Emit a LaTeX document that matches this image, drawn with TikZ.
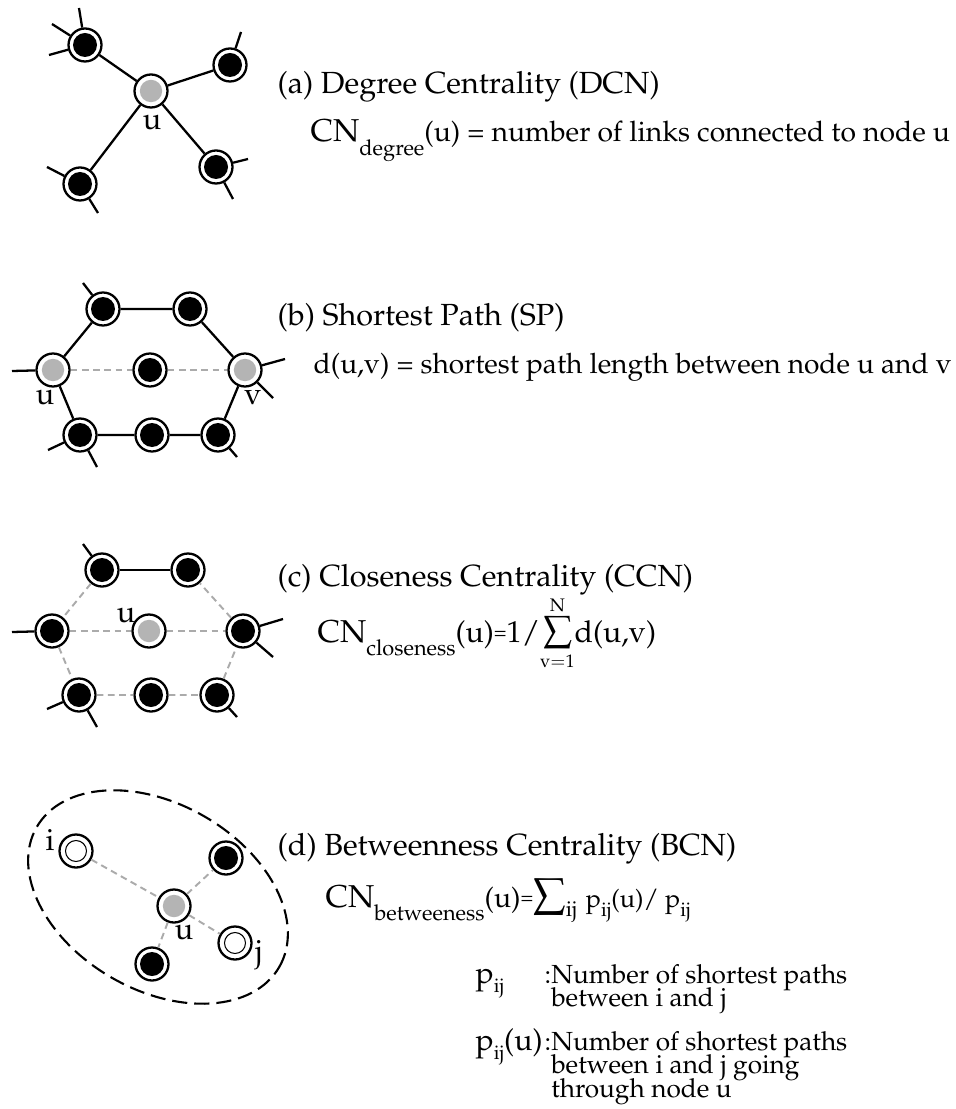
\documentclass[tikz,border=0pt]{standalone}
\usepackage[T1]{fontenc}
\usepackage{mathpazo}
\usetikzlibrary{positioning}
\definecolor{hopgray}{HTML}{ABABAB}
\definecolor{hubgray}{HTML}{B4B4B4}
\newcommand{\cnsub}[1]{{\fontsize{9.0}{10}\selectfont CN\raisebox{-3.8pt}{\fontsize{6.2}{8}\selectfont #1}}}
\newcommand{\ijsub}{\raisebox{-2.6pt}{\fontsize{5.6}{6}\selectfont ij}}
\newcommand{\bigsum}[1][1.2]{\mathop{\hbox{\scalebox{#1}{$\sum$}}}}
\newcommand{\stackl}[1]{\vtop{\baselineskip=6.8pt\lineskiplimit=-\maxdimen\halign{##\hfil\cr#1\crcr}}}

\begin{document}
\begin{tikzpicture}[
  peer/.style={circle,draw,line width=0.65pt,fill=white,minimum size=0.33cm,inner sep=0pt,
    path picture={\fill[black] (path picture bounding box.center) circle (0.12);}},
  hub/.style={peer,path picture={\fill[hubgray] (path picture bounding box.center) circle (0.112);}},
  endpt/.style={peer,path picture={\draw[black,line width=0.3pt] (path picture bounding box.center) circle (0.105);}},
  link/.style={line width=0.65pt},
  hop/.style={hopgray,line width=0.55pt,dash pattern=on 1.9pt off 1.3pt},
  lbl/.style={font=\fontsize{8.7}{10}\selectfont,inner sep=0pt},
  head/.style={font=\fontsize{8.7}{10}\selectfont,inner sep=0pt,anchor=base west},
  rule/.style={font=\fontsize{8.05}{10}\selectfont,inner sep=0pt,anchor=base west},
  note/.style={font=\fontsize{8.6}{9}\selectfont,inner sep=0pt,anchor=base west}]
 \useasboundingbox (0,0) rectangle (9.56,-11.09);

 % (a) degree centrality
 \node[hub] (au) at (1.51,-0.91) {};
 \node[peer] (a1) at (0.85,-0.45) {};
 \node[peer] (a2) at (2.30,-0.65) {};
 \node[peer] (a3) at (0.80,-1.84) {};
 \node[peer] (a4) at (2.16,-1.67) {};
 \node[lbl] (aul) at (1.52,-1.22) {u};
 \coordinate (a1x) at (0.79,-0.08);
 \coordinate (a1y) at (0.52,-0.24);
 \coordinate (a1z) at (0.49,-0.55);
 \coordinate (a2x) at (2.41,-0.32);
 \coordinate (a3x) at (0.47,-1.67);
 \coordinate (a3y) at (0.98,-2.13);
 \coordinate (a4x) at (2.48,-1.59);
 \coordinate (a4y) at (2.33,-1.99);
 \draw[link] (au)--(a1) (au)--(a2) (au)--(a3) (au)--(a4);
 \draw[link] (a1)--(a1x) (a1)--(a1y) (a1)--(a1z) (a2)--(a2x)
   (a3)--(a3x) (a3)--(a3y) (a4)--(a4x) (a4)--(a4y);
 \node[head] (ha) at (2.77,-0.94) {(a) Degree Centrality (DCN)};
 \node[rule] (fa) at (3.10,-1.42) {\cnsub{degree}(u) = number of links connected to node u};

 % (b) shortest path
 \node[peer] (b1) at (1.03,-3.09) {};
 \node[peer] (b2) at (1.90,-3.09) {};
 \node[hub] (bu) at (0.53,-3.70) {};
 \node[peer] (bc) at (1.50,-3.70) {};
 \node[hub] (bv) at (2.45,-3.70) {};
 \node[peer] (b3) at (0.80,-4.35) {};
 \node[peer] (b4) at (1.52,-4.35) {};
 \node[peer] (b5) at (2.18,-4.35) {};
 \node[lbl] (bul) at (0.45,-3.97) {u};
 \node[lbl] (bvl) at (2.53,-3.98) {v};
 \coordinate (b1x) at (0.83,-2.83);
 \coordinate (bux) at (0.12,-3.71);
 \coordinate (bvx) at (2.85,-3.59);
 \coordinate (bvy) at (2.73,-3.98);
 \coordinate (b3x) at (0.48,-4.50);
 \coordinate (b3y) at (0.97,-4.67);
 \coordinate (b5x) at (2.37,-4.57);
 \draw[link] (bu)--(b1)--(b2)--(bv)--(b5)--(b4)--(b3)--(bu);
 \draw[link] (b1)--(b1x) (bu)--(bux) (bv)--(bvx) (bv)--(bvy)
   (b3)--(b3x) (b3)--(b3y) (b5)--(b5x);
 \draw[hop] (bu)--(bc)--(bv);
 \node[head] (hb) at (2.77,-3.26) {(b) Shortest Path (SP)};
 \node[rule,font=\fontsize{8.0}{10}\selectfont] (fb) at (3.13,-3.74) {d(u,v) = shortest path length between node u and v};

 % (c) closeness centrality
 \node[peer] (c1) at (1.02,-5.70) {};
 \node[peer] (c2) at (1.88,-5.70) {};
 \node[peer] (cl) at (0.52,-6.31) {};
 \node[hub] (cu) at (1.49,-6.31) {};
 \node[peer] (cr) at (2.43,-6.31) {};
 \node[peer] (c3) at (0.79,-6.95) {};
 \node[peer] (c4) at (1.51,-6.95) {};
 \node[peer] (c5) at (2.17,-6.95) {};
 \node[lbl] (cul) at (1.26,-6.15) {u};
 \coordinate (c1x) at (0.83,-5.44);
 \coordinate (clx) at (0.12,-6.32);
 \coordinate (crx) at (2.83,-6.19);
 \coordinate (cry) at (2.73,-6.57);
 \coordinate (c3x) at (0.47,-7.09);
 \coordinate (c3y) at (0.97,-7.27);
 \coordinate (c5x) at (2.37,-7.17);
 \draw[link] (c1)--(c2);
 \draw[link] (c1)--(c1x) (cl)--(clx) (cr)--(crx) (cr)--(cry)
   (c3)--(c3x) (c3)--(c3y) (c5)--(c5x);
 \draw[hop] (c1)--(cl)--(c3)--(c4)--(c5)--(cr)--(c2);
 \draw[hop] (cl)--(cu)--(cr);
 \node[head] (hc) at (2.77,-5.86) {(c) Closeness Centrality (CCN)};
 \node[rule,font=\fontsize{8.6}{10}\selectfont] (fc) at (3.17,-6.42)
   {\cnsub{closeness}(u)\raisebox{0.8pt}{\fontsize{6}{6}\selectfont=}1/$\bigsum\limits_{\scriptscriptstyle\mathrm{v{=}1}}^{\raisebox{-0.4pt}{$\scriptscriptstyle\mathrm{N}$}}$d(u,v)};

 % (d) betweenness centrality
 \draw[line width=0.6pt,dash pattern=on 4.3pt off 2pt] (1.58,-8.97) ellipse[x radius=1.40,y radius=0.93,rotate=-30];
 \node[endpt] (di) at (0.76,-8.51) {};
 \node[peer] (d1) at (2.26,-8.58) {};
 \node[hub] (du) at (1.74,-9.06) {};
 \node[endpt] (dj) at (2.35,-9.43) {};
 \node[peer] (d2) at (1.52,-9.64) {};
 \node[lbl] (dil) at (0.50,-8.40) {i};
 \node[lbl] (dul) at (1.84,-9.32) {u};
 \node[lbl] (djl) at (2.59,-9.55) {j};
 \draw[hop] (di)--(du) (du)--(d1) (du)--(dj) (du)--(d2);
 \node[head] (hd) at (2.77,-8.55) {(d) Betweenness Centrality (BCN)};
 \node[rule] (fd) at (3.25,-9.07)
   {\cnsub{betweeness}(u)\raisebox{0.8pt}{\fontsize{6}{6}\selectfont=}$\bigsum[1.45]\nolimits_{\mathrm{ij}}$
    {\fontsize{7.2}{8}\selectfont p\ijsub(u)/ p\ijsub}};
 \node[note] (np) at (4.75,-9.83)
   {\makebox[0.69cm][l]{p\ijsub}{\fontsize{7.45}{6.8}\selectfont:\stackl{Number of shortest paths\cr between i and j}}};
 \node[note] (npu) at (4.75,-10.50)
   {\makebox[0.69cm][l]{p\ijsub(u)}{\fontsize{7.45}{6.8}\selectfont:\stackl{Number of shortest paths\cr between i and j going\cr through node u}}};
\end{tikzpicture}
\end{document}
